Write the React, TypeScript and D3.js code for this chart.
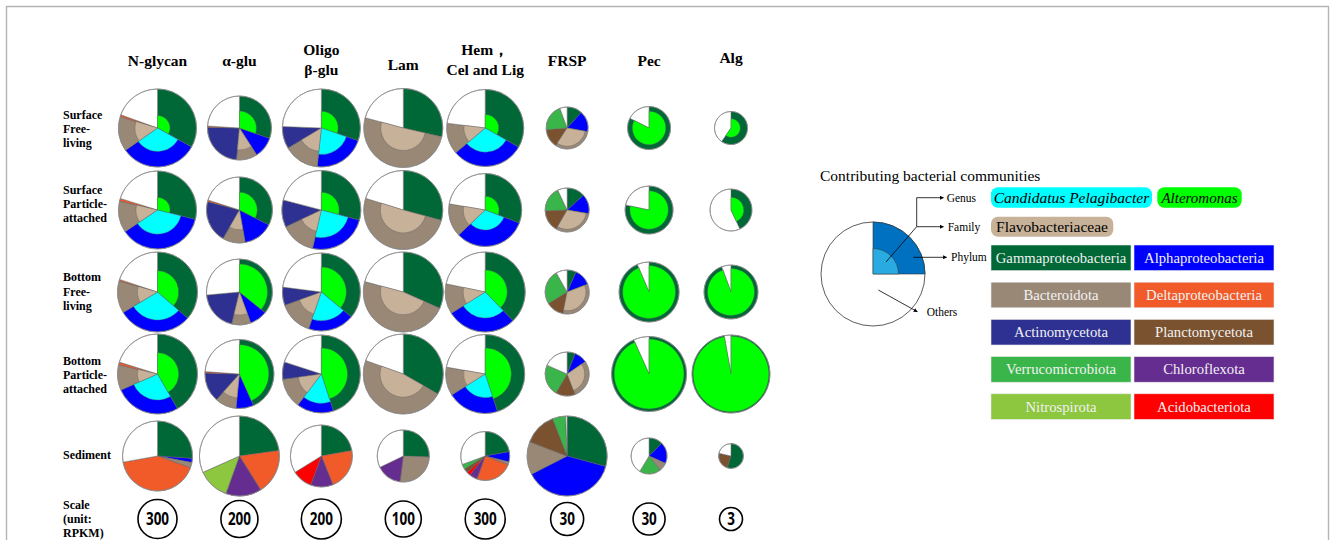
import React from "react";
import * as d3 from "d3";

// ---- categories ----
const columnTitles: string[][] = [
  ["N-glycan"],
  ["α-glu"],
  ["Oligo", "β-glu"],
  ["Lam"],
  ["Hem，", "Cel and Lig"],
  ["FRSP"],
  ["Pec"],
  ["Alg"],
];
const habitatLabels: string[][] = [
  ["Surface", "Free-", "living"],
  ["Surface", "Particle-", "attached"],
  ["Bottom", "Free-", "living"],
  ["Bottom", "Particle-", "attached"],
  ["Sediment"],
];
const scaleLabelLines = ["Scale", "(unit:", "RPKM)"];

// ---- abundance (RPKM) ----
// value that maps to the largest pie radius in each substrate column
const fullScaleRPKM = [1262, 935, 800, 494, 1200, 176.4, 187.5, 36.3];
// reference circle drawn in the bottom row
const scaleRPKM = [300, 200, 200, 100, 300, 30, 30, 3];

const totalsSurfaceFree = [1200, 598, 760, 482, 1112, 48.6, 54.2, 6.2];
const totalsSurfaceParticle = [1200, 636, 780, 482, 999, 53.4, 67.5, 10.0];
const totalsBottomFree = [1262, 636, 760, 494, 1200, 53.4, 105.5, 16.5];
const totalsBottomParticle = [1262, 696, 760, 494, 1170, 53.4, 164.8, 34.5];
const totalsSediment = [966, 935, 480, 209, 450, 176.4, 38, 3.5];

// ---- composition (% of each pie) ----
// phyla: gam, alp, bac, act, del, chl, nit, aci, pla, ver
// genus / family: alt (in gam), pel (in alp), fla (in bac)
type Comp = { [k: string]: number };

const compSurfaceFree: Comp[] = [
  { gam: 33.1, alp: 32.2, bac: 14.4, del: 0.8, alt: 3.4, pel: 11.6, fla: 4.8 },
  { gam: 30.3, alp: 10.6, bac: 10.6, act: 23.9, del: 0.6, alt: 8.5, fla: 5.0 },
  { gam: 30.3, alp: 21.4, bac: 14.7, act: 9.2, alt: 5.6, pel: 9.9, fla: 5.3 },
  { gam: 28.6, bac: 50.6, fla: 16.4 },
  { gam: 33.3, alp: 30.6, bac: 13.1, alt: 4.1, pel: 12.1, fla: 4.0 },
  { gam: 11.7, alp: 16.1, bac: 31.4, pla: 14.4, ver: 20.8, fla: 23.8 },
  { gam: 82.5, alt: 50.2 },
  { gam: 59.7, alt: 18.7 },
];
const compSurfaceParticle: Comp[] = [
  { gam: 28.9, alp: 36.7, bac: 13.1, del: 1.1, alt: 3.0, pel: 14.1, fla: 4.0 },
  { gam: 32.5, alp: 14.7, bac: 11.1, act: 20.8, del: 0.8, alt: 9.5, fla: 4.0 },
  { gam: 29.2, alp: 24.4, bac: 14.4, act: 11.1, alt: 5.9, pel: 12.0, fla: 4.4 },
  { gam: 29.2, bac: 50.6, fla: 17.0 },
  { gam: 30.8, alp: 32.2, bac: 14.7, alt: 4.4, pel: 9.7, fla: 5.3 },
  { gam: 13.3, alp: 14.4, bac: 30.6, pla: 16.1, ver: 18.6, fla: 23.7 },
  { gam: 78.3, alt: 50.1 },
  { gam: 43.1, alt: 16.0 },
];
const compBottomFree: Comp[] = [
  { gam: 36.4, alp: 30.0, bac: 13.1, del: 0.6, alt: 10.2, pel: 14.7, fla: 3.3 },
  { gam: 35.8, alp: 8.6, bac: 9.4, act: 19.7, alt: 25.9, fla: 4.6 },
  { gam: 36.1, alp: 19.2, bac: 14.2, act: 7.5, alt: 14.8, pel: 10.5, fla: 5.1 },
  { gam: 31.7, bac: 47.5, fla: 15.4 },
  { gam: 37.8, alp: 28.3, bac: 12.2, alt: 11.4, pel: 12.0, fla: 3.7 },
  { gam: 6.7, alp: 12.5, bac: 33.9, pla: 13.1, ver: 25.6, fla: 24.5 },
  { gam: 93.6, alt: 72.5 },
  { gam: 94.4, alt: 71.5 },
];
const compBottomParticle: Comp[] = [
  { gam: 41.7, alp: 26.7, bac: 10.3, del: 1.1, alt: 11.7, pel: 11.3, fla: 2.6 },
  { gam: 43.3, alp: 8.3, bac: 10.0, act: 13.9, del: 0.6, alt: 31.3, fla: 4.9 },
  { gam: 45.0, alp: 15.3, bac: 12.5, act: 7.2, alt: 20.2, pel: 8.6, fla: 4.5 },
  { gam: 33.3, bac: 47.2, fla: 15.9 },
  { gam: 45.0, alp: 21.1, bac: 11.7, alt: 19.6, pel: 7.6, fla: 3.5 },
  { gam: 6.1, alp: 9.4, bac: 28.6, pla: 14.4, ver: 23.1, fla: 18.3 },
  { gam: 93.3, alt: 80.7 },
  { gam: 97.2, alt: 91.5 },
];
const compSediment: Comp[] = [
  { gam: 26.1, alp: 1.9, bac: 2.5, del: 41.7 },
  { gam: 22.8, del: 18.3, chl: 14.4, nit: 12.8 },
  { gam: 22.2, del: 21.7, chl: 11.7, aci: 10.6 },
  { gam: 25.6, bac: 26.4, chl: 15.8 },
  { gam: 22.2, alp: 6.7, bac: 1.9, del: 24.7, chl: 5.3, aci: 2.5, pla: 2.8, ver: 3.3 },
  { gam: 29.2, alp: 38.3, bac: 13.3, pla: 13.3, ver: 5.3 },
  { gam: 12.5, alp: 19.2, bac: 7.8, ver: 19.2 },
  { gam: 55.0, pla: 23.6 },
];

const habitatTotals = [totalsSurfaceFree, totalsSurfaceParticle, totalsBottomFree, totalsBottomParticle, totalsSediment];
const habitatComps = [compSurfaceFree, compSurfaceParticle, compBottomFree, compBottomParticle, compSediment];

const phylumOrder = ["gam", "alp", "bac", "act", "del", "chl", "nit", "aci", "pla", "ver"];
const genusOf: { [k: string]: string } = { gam: "alt", alp: "pel", bac: "fla" };

const taxonNames: { [k: string]: string } = {
  gam: "Gammaproteobacteria",
  alp: "Alphaproteobacteria",
  bac: "Bacteroidota",
  del: "Deltaproteobacteria",
  act: "Actinomycetota",
  pla: "Planctomycetota",
  ver: "Verrucomicrobiota",
  chl: "Chloroflexota",
  nit: "Nitrospirota",
  aci: "Acidobacteriota",
  pel: "Candidatus Pelagibacter",
  alt: "Alteromonas",
  fla: "Flavobacteriaceae",
};
const phylumLegendPairs = [
  ["gam", "alp"],
  ["bac", "del"],
  ["act", "pla"],
  ["ver", "chl"],
  ["nit", "aci"],
];

// ---- styles ----
const COLORS: { [k: string]: string } = {
  gam: "#006837",
  alp: "#0000ff",
  bac: "#9a8877",
  del: "#f15a29",
  act: "#2e3192",
  pla: "#7a5230",
  ver: "#39b54a",
  chl: "#662d91",
  nit: "#8dc63f",
  aci: "#ff0000",
  others: "#ffffff",
  alt: "#00ff00",
  pel: "#00ffff",
  fla: "#c7b299",
};
const SERIF = "Liberation Serif, Times New Roman, Times, DejaVu Serif, serif";
const MAX_R = 40;

type Slice = { key: string; value: number };

const pieGen = d3.pie<Slice>().sort(null).value((d) => d.value);
const arcGen = d3.arc<any>();

function Pie({ cx, cy, r, comp }: { cx: number; cy: number; r: number; comp: Comp }) {
  const slices: Slice[] = phylumOrder.filter((k) => comp[k]).map((k) => ({ key: k, value: comp[k] }));
  const used = d3.sum(slices, (d) => d.value);
  slices.push({ key: "others", value: Math.max(0, 100 - used) });
  const arcs = pieGen(slices);
  return (
    <g transform={`translate(${cx},${cy})`}>
      {arcs.map((a) => (
        <path
          key={a.data.key}
          d={arcGen({ innerRadius: 0, outerRadius: r, startAngle: a.startAngle, endAngle: a.endAngle }) as string}
          fill={COLORS[a.data.key]}
          stroke="#5e5e5e"
          strokeWidth={0.5}
        />
      ))}
      {arcs
        .filter((a) => genusOf[a.data.key] && comp[genusOf[a.data.key]])
        .map((a) => {
          const g = genusOf[a.data.key];
          const ri = r * Math.sqrt(comp[g] / a.data.value);
          return (
            <path
              key={g}
              d={arcGen({ innerRadius: 0, outerRadius: ri, startAngle: a.startAngle, endAngle: a.endAngle }) as string}
              fill={COLORS[g]}
              stroke="#5e5e5e"
              strokeWidth={0.4}
            />
          );
        })}
      <circle r={r} fill="none" stroke="#8f8f8f" strokeWidth={0.8} />
    </g>
  );
}

export default function App() {
  const xCol = d3.scalePoint<number>().domain(d3.range(columnTitles.length)).range([157.5, 731]);
  const yRow = d3.scalePoint<number>().domain(d3.range(habitatLabels.length)).range([128, 456]);
  const scaleRowY = 519;
  const radius = (c: number) => d3.scaleSqrt().domain([0, fullScaleRPKM[c]]).range([0, MAX_R]);

  const titleBaselines = (n: number) => (n === 1 ? [66] : [55, 75]);
  const labelCenters = [129, 204, 291.5, 375, 455];
  const lineGap = 14.4;

  // legend schematic
  const lx = 873, ly = 274, lr = 52;
  const boxX = [991, 1134], boxW = 140, boxH = 25.6, boxY0 = 245, boxStep = 37.2;

  return (
    <svg
      width={1330}
      height={540}
      style={{ position: "absolute", left: 0, top: 0, background: "#fff" }}
    >
      <defs>
        <marker id="arrowHead" viewBox="0 0 10 10" refX="9" refY="5" markerWidth="5" markerHeight="5" orient="auto">
          <path d="M0,0 L10,5 L0,10 z" fill="#000" />
        </marker>
      </defs>

      {/* frame */}
      <path d="M6.5,540 V6.5 H1328.5 V540" fill="none" stroke="#b4b4b4" strokeWidth={1.4} />

      {/* column titles */}
      {columnTitles.map((lines, c) => (
        <text key={c} style={{ fontFamily: SERIF }} fontWeight="bold" fontSize={15.5} textAnchor="middle">
          {lines.map((t, i) => (
            <tspan key={i} x={xCol(c)} y={c === 3 ? 70 : c === 7 ? 63 : titleBaselines(lines.length)[i]}>
              {t}
            </tspan>
          ))}
        </text>
      ))}

      {/* habitat labels */}
      {habitatLabels.map((lines, r) => (
        <text key={r} style={{ fontFamily: SERIF }} fontWeight="bold" fontSize={12}>
          {lines.map((t, i) => (
            <tspan key={i} x={63} y={labelCenters[r] + (i - (lines.length - 1) / 2) * lineGap + 4}>
              {t}
            </tspan>
          ))}
        </text>
      ))}
      <text style={{ fontFamily: SERIF }} fontWeight="bold" fontSize={12}>
        {scaleLabelLines.map((t, i) => (
          <tspan key={i} x={63} y={519 + (i - 1) * lineGap + 4}>
            {t}
          </tspan>
        ))}
      </text>

      {/* pies */}
      {habitatComps.map((row, r) =>
        row.map((comp, c) => (
          <Pie key={`${r}-${c}`} cx={xCol(c)!} cy={yRow(r)!} r={radius(c)(habitatTotals[r][c])} comp={comp} />
        ))
      )}

      {/* scale circles */}
      {scaleRPKM.map((v, c) => {
        const label = String(v);
        return (
          <g key={c} transform={`translate(${xCol(c)},${scaleRowY})`}>
            <circle r={radius(c)(v)} fill="#fff" stroke="#000" strokeWidth={1.6} />
            <text
              y={6.4}
              textAnchor="middle"
              style={{ fontFamily: "Open Sans, sans-serif" }}
              fontWeight="bold"
              fontSize={18}
              textLength={label.length * 7.7}
              lengthAdjust="spacingAndGlyphs"
            >
              {label}
            </text>
          </g>
        );
      })}

      {/* legend */}
      <text x={820} y={181} style={{ fontFamily: SERIF }} fontSize={15.5}>
        Contributing bacterial communities
      </text>
      <g transform={`translate(${lx},${ly})`}>
        <circle r={lr} fill="#fff" stroke="#333" strokeWidth={0.8} />
        <path
          d={arcGen({ innerRadius: 0, outerRadius: lr, startAngle: 0, endAngle: Math.PI / 2 }) as string}
          fill="#0070c0"
          stroke="#333"
          strokeWidth={0.6}
        />
        <path
          d={arcGen({ innerRadius: 0, outerRadius: lr * 0.49, startAngle: 0, endAngle: Math.PI / 2 }) as string}
          fill="#29abe2"
          stroke="#333"
          strokeWidth={0.5}
        />
      </g>
      <g stroke="#000" strokeWidth={0.8} fill="none">
        <path d="M886,262 L916.7,226.7 V197.7" />
        <line x1={916.7} y1={197.7} x2={943.5} y2={197.7} markerEnd="url(#arrowHead)" />
        <line x1={916.7} y1={226.7} x2={943.5} y2={226.7} markerEnd="url(#arrowHead)" />
        <line x1={913.3} y1={257.3} x2={946.7} y2={257.3} markerEnd="url(#arrowHead)" />
        <line x1={878.3} y1={290} x2={917.3} y2={311.7} markerEnd="url(#arrowHead)" />
      </g>
      <g style={{ fontFamily: SERIF }} fontSize={11.5} fill="#000">
        <text x={946.7} y={201.5}>Genus</text>
        <text x={947.7} y={230.5}>Family</text>
        <text x={951} y={261}>Phylum</text>
        <text x={926.7} y={315.5}>Others</text>
      </g>

      {/* genus / family chips */}
      <rect x={991} y={187.3} width={161} height={20.4} rx={7} fill={COLORS.pel} />
      <text x={1071.5} y={202.7} textAnchor="middle" style={{ fontFamily: SERIF }} fontStyle="italic" fontSize={15.5}>
        {taxonNames.pel}
      </text>
      <rect x={1157.3} y={187.3} width={84.4} height={20.4} rx={7} fill={COLORS.alt} />
      <text x={1199.5} y={202.7} textAnchor="middle" style={{ fontFamily: SERIF }} fontStyle="italic" fontSize={15}>
        {taxonNames.alt}
      </text>
      <rect x={991} y={216.7} width={122.3} height={20} rx={7} fill={COLORS.fla} />
      <text x={1052} y={231.7} textAnchor="middle" style={{ fontFamily: SERIF }} fontSize={15.5}>
        {taxonNames.fla}
      </text>

      {/* phylum boxes */}
      {phylumLegendPairs.map((pair, i) =>
        pair.map((k, j) => (
          <g key={k}>
            <rect
              x={boxX[j]}
              y={boxY0 + i * boxStep}
              width={boxW}
              height={boxH}
              fill={COLORS[k]}
              stroke="#e6e6e6"
              strokeWidth={0.6}
            />
            <text
              x={boxX[j] + boxW / 2}
              y={boxY0 + i * boxStep + boxH / 2 + 5}
              textAnchor="middle"
              style={{ fontFamily: SERIF }}
              fontSize={14.7}
              fill="#f2f2f2"
            >
              {taxonNames[k]}
            </text>
          </g>
        ))
      )}
    </svg>
  );
}
